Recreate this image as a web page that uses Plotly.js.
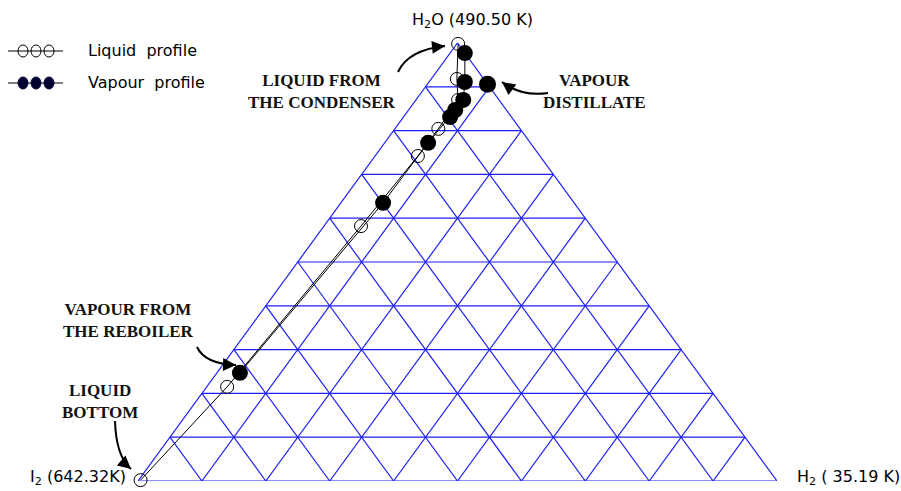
<!DOCTYPE html>
<html>
<head>
<meta charset="utf-8">
<script src="https://cdn.plot.ly/plotly-3.0.1.min.js"></script>
<style>html,body{margin:0;padding:0;background:#fff;}#chart{width:901px;height:491px;}</style>
</head>
<body>
<div id="chart"></div>
<script>
// Ternary compositions (mole fractions): H2O (top), I2 (bottom-left), H2 (bottom-right)
const liquidH2O = [0.002, 0.215, 0.582, 0.742, 0.804, 0.870, 0.918, 0.998];
const liquidI2  = [0.995, 0.753, 0.360, 0.191, 0.128, 0.064, 0.042, 0.000];
const liquidH2  = [0.003, 0.032, 0.058, 0.067, 0.068, 0.066, 0.040, 0.002];

const vapourH2O = [0.247, 0.635, 0.772, 0.831, 0.847, 0.870, 0.911, 0.977];
const vapourI2  = [0.717, 0.299, 0.160, 0.096, 0.080, 0.056, 0.033, 0.000];
const vapourH2  = [0.036, 0.066, 0.068, 0.073, 0.073, 0.074, 0.056, 0.023];

const distillateH2O = [0.906];
const distillateI2  = [0.000];
const distillateH2  = [0.094];

const vertexLabels = ['H<sub>2</sub>O (490.50 K)', 'I<sub>2</sub> (642.32K)', 'H<sub>2</sub> ( 35.19 K)'];
const legendLabels = ['Liquid  profile', 'Vapour  profile'];
const gridDivisions = 10;

// ternary -> cartesian (x = H2 + H2O/2, y = H2O)
function tx(a, b, c) { return c + a / 2; }
function ty(a, b, c) { return a; }
function project(A, B, C) {
  return { x: A.map((a, i) => tx(a, B[i], C[i])), y: A.map((a, i) => ty(a, B[i], C[i])) };
}

// plot-area geometry (pixels)
const W = 901, H = 491, L = 138, R = 777, T = 43, BOT = 481;
const X = px => (px - L) / (R - L);
const Y = py => (BOT - py) / (BOT - T);

// grid lines
const gx = [], gy = [];
function seg(p, q) { gx.push(tx(...p), tx(...q), null); gy.push(ty(...p), ty(...q), null); }
for (let i = 0; i <= gridDivisions; i++) {
  const f = i / gridDivisions;
  seg([f, 1 - f, 0], [f, 0, 1 - f]);       // constant H2O
  seg([1 - f, f, 0], [0, f, 1 - f]);       // constant I2
  seg([1 - f, 0, f], [0, 1 - f, f]);       // constant H2
}
const blue = 'rgb(30,30,250)';

const liq = project(liquidH2O, liquidI2, liquidH2);
const vap = project(vapourH2O, vapourI2, vapourH2);
const dis = project(distillateH2O, distillateI2, distillateH2);

const traces = [
  { x: gx, y: gy, mode: 'lines', line: { color: blue, width: 1.2 }, hoverinfo: 'skip', cliponaxis: false },
  { x: vap.x, y: vap.y, mode: 'lines+markers', name: legendLabels[1], line: { color: '#000', width: 1 },
    marker: { symbol: 'circle', size: 16, color: '#000' }, cliponaxis: false },
  { x: liq.x, y: liq.y, mode: 'lines+markers', name: legendLabels[0], line: { color: '#000', width: 1 },
    marker: { symbol: 'circle-open', size: 13, color: '#000', line: { width: 1 } }, cliponaxis: false },
  { x: dis.x, y: dis.y, mode: 'markers', marker: { symbol: 'circle', size: 17, color: '#000' }, cliponaxis: false }
];

const labelFont = { family: 'DejaVu Sans, sans-serif', size: 16, color: '#000' };
const boldFont = { family: 'Liberation Serif, serif', size: 17, color: '#111' };

const annotations = [
  { xref: 'paper', yref: 'paper', x: X(472), y: Y(20), text: vertexLabels[0], showarrow: false, font: labelFont, xanchor: 'center', yanchor: 'middle' },
  { xref: 'paper', yref: 'paper', x: X(128), y: Y(477), text: vertexLabels[1], showarrow: false, font: labelFont, xanchor: 'right', yanchor: 'middle' },
  { xref: 'paper', yref: 'paper', x: X(795), y: Y(477), text: vertexLabels[2], showarrow: false, font: labelFont, xanchor: 'left', yanchor: 'middle' },
  { xref: 'paper', yref: 'paper', x: X(322), y: Y(91), text: '<b>LIQUID FROM<br>THE CONDENSER</b>', showarrow: false, font: boldFont, xanchor: 'center', yanchor: 'middle' },
  { xref: 'paper', yref: 'paper', x: X(594), y: Y(91), text: '<b>VAPOUR<br>DISTILLATE</b>', showarrow: false, font: boldFont, xanchor: 'center', yanchor: 'middle' },
  { xref: 'paper', yref: 'paper', x: X(128), y: Y(320), text: '<b>VAPOUR FROM<br>THE REBOILER</b>', showarrow: false, font: boldFont, xanchor: 'center', yanchor: 'middle' },
  { xref: 'paper', yref: 'paper', x: X(100), y: Y(401), text: '<b>LIQUID<br>BOTTOM</b>', showarrow: false, font: boldFont, xanchor: 'center', yanchor: 'middle' },
  // legend texts
  { xref: 'paper', yref: 'paper', x: X(86), y: Y(50), text: legendLabels[0], showarrow: false, font: labelFont, xanchor: 'left', yanchor: 'middle' },
  { xref: 'paper', yref: 'paper', x: X(86), y: Y(82), text: legendLabels[1], showarrow: false, font: labelFont, xanchor: 'left', yanchor: 'middle' }
];

// curved arrows: [tail, control, tip]
const arrows = [
  [[398, 72], [408, 50], [445, 46]],
  [[548, 93], [522, 97], [502, 82]],
  [[197, 347], [205, 364], [236, 365]],
  [[115, 421], [116, 456], [131, 469]]
];
const shapes = [];
arrows.forEach(([t, c, p]) => {
  shapes.push({ type: 'path', xref: 'paper', yref: 'paper',
    path: `M ${X(t[0])},${Y(t[1])} Q ${X(c[0])},${Y(c[1])} ${X(p[0])},${Y(p[1])}`,
    line: { color: '#000', width: 2 } });
  const dx = p[0] - c[0], dy = p[1] - c[1], n = Math.hypot(dx, dy);
  annotations.push({ xref: 'paper', yref: 'paper', x: X(p[0]), y: Y(p[1]), ax: -dx / n * 8, ay: -dy / n * 8,
    text: '', showarrow: true, arrowhead: 2, arrowsize: 1.3, arrowwidth: 2, arrowcolor: '#000', standoff: 0 });
});

// manual legend glyphs
function legendRow(py, filled) {
  shapes.push({ type: 'line', xref: 'paper', yref: 'paper', x0: X(8), x1: X(63), y0: Y(py), y1: Y(py), line: { color: '#000', width: 1 } });
  [23, 36, 49].forEach(cx => {
    const rx = 5, ry = 6;
    shapes.push({ type: 'circle', xref: 'paper', yref: 'paper', x0: X(cx - rx), x1: X(cx + rx), y0: Y(py - ry), y1: Y(py + ry),
      line: { color: filled ? '#000030' : '#000', width: 1 }, fillcolor: filled ? '#000030' : 'rgba(0,0,0,0)' });
  });
}
legendRow(51, false);
legendRow(83, true);

const axis = { range: [0, 1], showgrid: false, zeroline: false, showticklabels: false, showline: false, ticks: '', fixedrange: true };
const layout = {
  width: W, height: H,
  margin: { l: L, r: W - R, t: T, b: H - BOT, pad: 0 },
  paper_bgcolor: '#fff', plot_bgcolor: '#fff',
  showlegend: false,
  xaxis: Object.assign({}, axis),
  yaxis: Object.assign({}, axis),
  annotations: annotations,
  shapes: shapes
};
Plotly.newPlot('chart', traces, layout, { displayModeBar: false, staticPlot: true });
</script>
</body>
</html>
